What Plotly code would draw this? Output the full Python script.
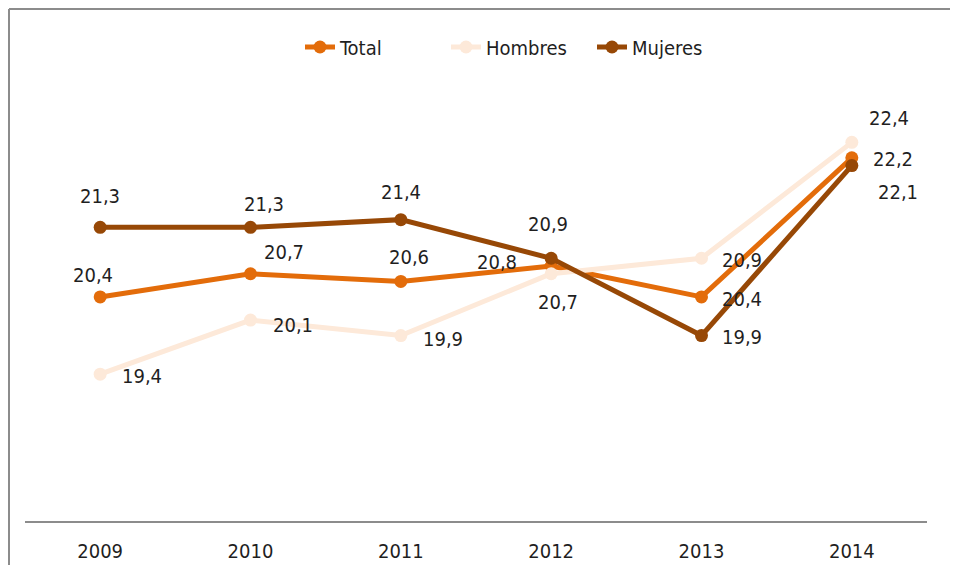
import plotly.graph_objects as go

years = ["2009", "2010", "2011", "2012", "2013", "2014"]
total = [20.4, 20.7, 20.6, 20.8, 20.4, 22.2]
hombres = [19.4, 20.1, 19.9, 20.7, 20.9, 22.4]
mujeres = [21.3, 21.3, 21.4, 20.9, 19.9, 22.1]

series_names = ["Total", "Hombres", "Mujeres"]
colors = ["#E36C0A", "#FDE9D9", "#974806"]

# label offsets (pixels) per series, per point
offsets = {
    "Total": [(-7, -22), (33, -22), (8, -24), (-54, -4), (40, 2), (41, 1)],
    "Hombres": [(42, 2), (42, 5), (42, 3), (7, 28), (40, 2), (37, -24)],
    "Mujeres": [(0, -31), (13, -23), (0, -28), (-3, -34), (40, 1), (46, 26)],
}

FONT = "Liberation Sans Narrow, Arial Narrow, DejaVu Sans Condensed, sans-serif"
FS = 20
TXT = "#1F1F1F"

fig = go.Figure()
data = {"Total": total, "Hombres": hombres, "Mujeres": mujeres}
for name, col in zip(series_names, colors):
    fig.add_trace(go.Scatter(
        x=years, y=data[name], name=name, mode="lines+markers",
        line=dict(color=col, width=5), marker=dict(color=col, size=13),
    ))

annotations = []
for name in series_names:
    for i, y in enumerate(data[name]):
        dx, dy = offsets[name][i]
        annotations.append(dict(
            x=i, y=y, xref="x", yref="y", text=f"{y:.1f}".replace(".", ","),
            showarrow=False, xshift=dx, yshift=-dy,
            font=dict(family=FONT, size=FS, color=TXT),
        ))

# page body has an 8px margin; plot area spans x 25..927, y 96..521 on screen
FW, FH = 942, 557
L, T, W, H = 17, 88, 902, 425
border = dict(color="#8C8C8C", width=2)
fig.update_layout(
    template="none",
    width=FW, height=FH,
    margin=dict(l=L, r=FW - L - W, t=T, b=FH - T - H, autoexpand=False),
    paper_bgcolor="white", plot_bgcolor="white",
    font=dict(family=FONT, size=FS, color=TXT),
    showlegend=True,
    legend=dict(orientation="h", x=(300 - 25) / W, xanchor="left",
                y=(521 - 47) / H, yanchor="middle",
                entrywidth=101, entrywidthmode="pixels",
                font=dict(family=FONT, size=FS, color=TXT), bgcolor="rgba(0,0,0,0)"),
    annotations=annotations,
    xaxis=dict(type="category", range=[-0.5, 5.5], showline=True, linecolor="#8C8C8C",
               linewidth=2, showgrid=False, zeroline=False, ticks="", automargin=False,
               ticklabelstandoff=11,
               tickfont=dict(family=FONT, size=FS, color=TXT)),
    yaxis=dict(range=[17.5, 23.0], visible=False, showgrid=False, zeroline=False,
               automargin=False),
    shapes=[
        dict(type="line", xref="paper", yref="paper",
             x0=(1 - L) / W, x1=1.3, y0=(T + H - 1) / H, y1=(T + H - 1) / H, line=border),
        dict(type="line", xref="paper", yref="paper",
             x0=(1 - L) / W, x1=(1 - L) / W, y0=-0.3, y1=(T + H - 1) / H, line=border),
    ],
)

fig.write_html("out.html")
